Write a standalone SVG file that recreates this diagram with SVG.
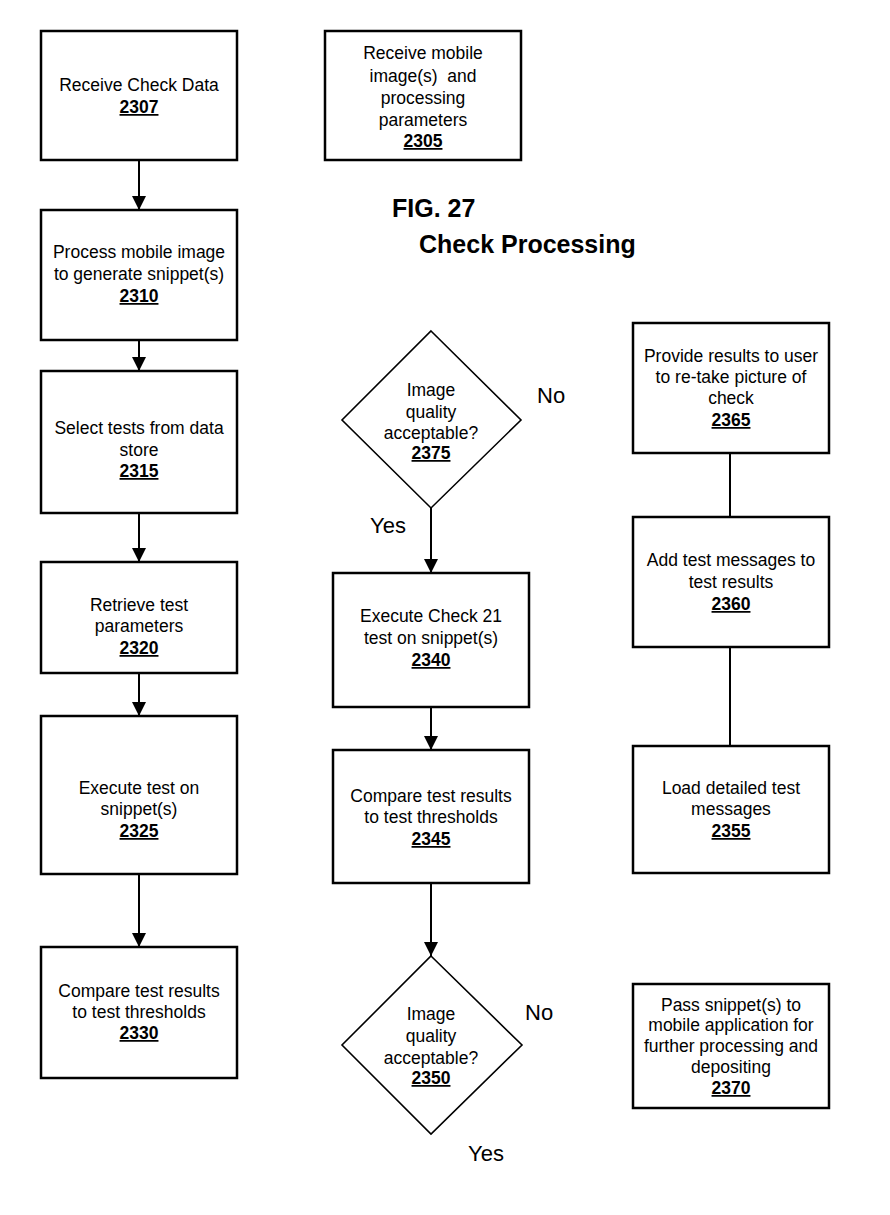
<svg xmlns="http://www.w3.org/2000/svg" width="890" height="1215" viewBox="0 0 890 1215">
<style>
.box{fill:#fff;stroke:#000;stroke-width:2.5}
.dia{fill:#fff;stroke:#000;stroke-width:1.6}
text{font-family:"Liberation Sans",Arial,sans-serif;font-size:17.5px;fill:#000;text-anchor:middle}
.num{font-weight:bold;text-decoration:underline}
.title{font-weight:bold;font-size:25px;text-anchor:start}
.lbl{font-size:22px;text-anchor:start}
.conn{stroke:#000;stroke-width:2;fill:none}
</style>
<defs>
<marker id="arr" markerWidth="14" markerHeight="14" refX="14" refY="7" orient="auto" markerUnits="userSpaceOnUse" viewBox="0 0 14 14">
<path d="M0,0 L14,7 L0,14 Z" fill="#000"/>
</marker>
</defs>
<rect width="890" height="1215" fill="#fff"/>
<g id="connectors">
<line class="conn" x1="139" y1="160" x2="139" y2="210" marker-end="url(#arr)"/>
<line class="conn" x1="139" y1="340" x2="139" y2="371" marker-end="url(#arr)"/>
<line class="conn" x1="139" y1="513" x2="139" y2="562" marker-end="url(#arr)"/>
<line class="conn" x1="139" y1="673" x2="139" y2="716" marker-end="url(#arr)"/>
<line class="conn" x1="139" y1="874" x2="139" y2="947" marker-end="url(#arr)"/>
<line class="conn" x1="431" y1="508" x2="431" y2="573" marker-end="url(#arr)"/>
<line class="conn" x1="431" y1="707" x2="431" y2="750" marker-end="url(#arr)"/>
<line class="conn" x1="431" y1="883" x2="431" y2="956" marker-end="url(#arr)"/>
<line class="conn" x1="730" y1="453" x2="730" y2="517" stroke-width="2.5"/>
<line class="conn" x1="730" y1="647" x2="730" y2="746" stroke-width="2.5"/>
</g>
<g id="title">
<text class="title" x="392" y="217">FIG. 27</text>
<text class="title" x="419" y="253">Check Processing</text>
</g>
<g id="n2307">
<rect class="box" x="41" y="31" width="196" height="129"/>
<text x="139" y="91">Receive Check Data</text>
<text class="num" x="139" y="113">2307</text>
</g>
<g id="n2305">
<rect class="box" x="325" y="31" width="196" height="129"/>
<text x="423" y="59">Receive mobile</text>
<text x="423" y="82" style="white-space:pre">image(s)  and</text>
<text x="423" y="104">processing</text>
<text x="423" y="126">parameters</text>
<text class="num" x="423" y="147">2305</text>
</g>
<g id="n2310">
<rect class="box" x="41" y="210" width="196" height="130"/>
<text x="139" y="258">Process mobile image</text>
<text x="139" y="280">to generate snippet(s)</text>
<text class="num" x="139" y="302">2310</text>
</g>
<g id="n2315">
<rect class="box" x="41" y="371" width="196" height="142"/>
<text x="139" y="434">Select tests from data</text>
<text x="139" y="456">store</text>
<text class="num" x="139" y="477">2315</text>
</g>
<g id="n2320">
<rect class="box" x="41" y="562" width="196" height="111"/>
<text x="139" y="611">Retrieve test</text>
<text x="139" y="632">parameters</text>
<text class="num" x="139" y="654">2320</text>
</g>
<g id="n2325">
<rect class="box" x="41" y="716" width="196" height="158"/>
<text x="139" y="794">Execute test on</text>
<text x="139" y="815">snippet(s)</text>
<text class="num" x="139" y="837">2325</text>
</g>
<g id="n2330">
<rect class="box" x="41" y="947" width="196" height="131"/>
<text x="139" y="997">Compare test results</text>
<text x="139" y="1018">to test thresholds</text>
<text class="num" x="139" y="1039">2330</text>
</g>
<g id="n2375">
<polygon class="dia" points="431,331 521,420 431,508 342,420"/>
<text x="431" y="396">Image</text>
<text x="431" y="418">quality</text>
<text x="431" y="439">acceptable?</text>
<text class="num" x="431" y="459">2375</text>
<text class="lbl" x="537" y="403">No</text>
<text class="lbl" x="370" y="533">Yes</text>
</g>
<g id="n2340">
<rect class="box" x="333" y="573" width="196" height="134"/>
<text x="431" y="622">Execute Check 21</text>
<text x="431" y="644">test on snippet(s)</text>
<text class="num" x="431" y="666">2340</text>
</g>
<g id="n2345">
<rect class="box" x="333" y="750" width="196" height="133"/>
<text x="431" y="802">Compare test results</text>
<text x="431" y="823">to test thresholds</text>
<text class="num" x="431" y="845">2345</text>
</g>
<g id="n2350">
<polygon class="dia" points="431,956 522,1045 431,1134 342,1045"/>
<text x="431" y="1020">Image</text>
<text x="431" y="1042">quality</text>
<text x="431" y="1064">acceptable?</text>
<text class="num" x="431" y="1084">2350</text>
<text class="lbl" x="525" y="1020">No</text>
<text class="lbl" x="468" y="1161">Yes</text>
</g>
<g id="n2365">
<rect class="box" x="633" y="323" width="196" height="130"/>
<text x="731" y="362">Provide results to user</text>
<text x="731" y="383">to re-take picture of</text>
<text x="731" y="404">check</text>
<text class="num" x="731" y="426">2365</text>
</g>
<g id="n2360">
<rect class="box" x="633" y="517" width="196" height="130"/>
<text x="731" y="566">Add test messages to</text>
<text x="731" y="588">test results</text>
<text class="num" x="731" y="610">2360</text>
</g>
<g id="n2355">
<rect class="box" x="633" y="746" width="196" height="127"/>
<text x="731" y="794">Load detailed test</text>
<text x="731" y="815">messages</text>
<text class="num" x="731" y="837">2355</text>
</g>
<g id="n2370">
<rect class="box" x="633" y="984" width="196" height="124"/>
<text x="731" y="1011">Pass snippet(s) to</text>
<text x="731" y="1031">mobile application for</text>
<text x="731" y="1052">further processing and</text>
<text x="731" y="1073">depositing</text>
<text class="num" x="731" y="1094">2370</text>
</g>
</svg>
